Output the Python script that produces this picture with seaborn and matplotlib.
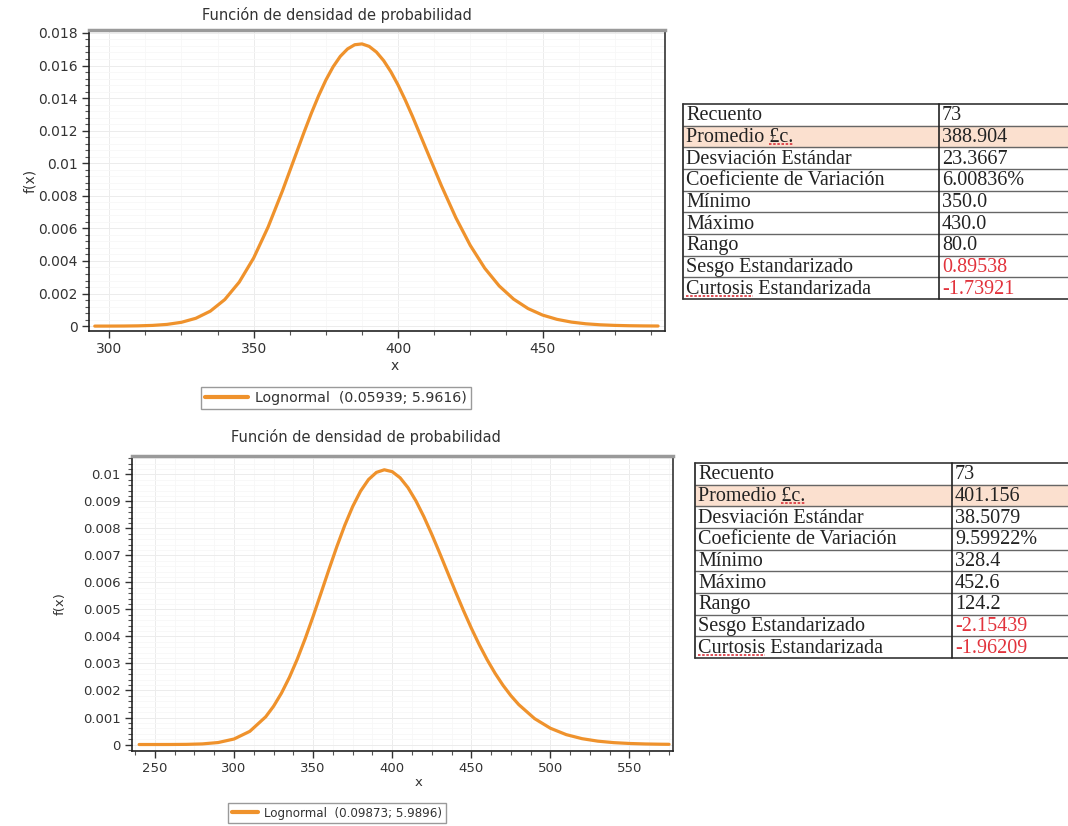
import matplotlib
matplotlib.use("Agg")
import matplotlib.pyplot as plt
from matplotlib.patches import Rectangle
from matplotlib.ticker import MultipleLocator, AutoMinorLocator, FuncFormatter
import seaborn as sns

W, H = 1068, 826

# Curve points
x_top = [295, 300, 305, 310, 315, 320, 325, 330, 335, 340, 345, 350, 355, 360, 365,
         367.5, 370, 372.5, 375, 377.5, 380, 382.5, 385, 387.5, 390, 392.5, 395, 397.5,
         400, 402.5, 405, 410, 415, 420, 425, 430, 435, 440, 445, 450, 455, 460, 465,
         470, 475, 480, 485, 490]
f_top = [0.0000005, 0.0000018, 0.0000057, 0.0000165, 0.0000435, 0.0001052, 0.0002342,
         0.0004818, 0.000919, 0.00163, 0.0027, 0.004183, 0.006082, 0.008318, 0.010728,
         0.011927, 0.01308, 0.014149, 0.015106, 0.015919, 0.016563, 0.017017, 0.017276,
         0.017326, 0.017173, 0.016826, 0.016301, 0.015617, 0.014799, 0.013874, 0.012872,
         0.010744, 0.008619, 0.006654, 0.004951, 0.003555, 0.002467, 0.001656, 0.001077,
         0.000679, 0.000416, 0.000247, 0.000143, 0.0000806, 0.0000443, 0.0000237,
         0.0000124, 0.0000063]

x_bot = [240, 250, 260, 270, 280, 290, 300, 310, 320, 325, 330, 335, 340, 345, 350,
         355, 360, 365, 370, 375, 380, 385, 390, 395, 400, 405, 410, 415, 420, 425,
         430, 435, 440, 445, 450, 455, 460, 465, 470, 475, 480, 490, 500, 510, 520,
         530, 540, 550, 560, 570, 575]
f_bot = [0.00000003, 0.0000002, 0.0000012, 0.0000058, 0.0000226, 0.0000736, 0.0002039,
         0.0004883, 0.0010246, 0.0014168, 0.0019031, 0.0024862, 0.0031626, 0.0039213,
         0.0047446, 0.0056073, 0.0064795, 0.0073268, 0.0081146, 0.0088088, 0.0093809,
         0.0098075, 0.010073, 0.01017, 0.0101, 0.0098732, 0.0095054, 0.0090175,
         0.0084343, 0.0077817, 0.0070862, 0.0063708, 0.0056578, 0.0049656, 0.0043088,
         0.0036976, 0.0031395, 0.0026386, 0.0021956, 0.0018093, 0.0014773, 0.000959,
         0.000602, 0.0003663, 0.0002163, 0.0001243, 0.0000696, 0.0000381, 0.0000203,
         0.0000106, 0.0000076]

label_top = "Lognormal  (0.05939; 5.9616)"
label_bot = "Lognormal  (0.09873; 5.9896)"

# Summary tables
stat_names = ["Recuento", "Promedio £c.", "Desviación Estándar", "Coeficiente de Variación",
              "Mínimo", "Máximo", "Rango", "Sesgo Estandarizado", "Curtosis Estandarizada"]
stats_top = ["73", "388.904", "23.3667", "6.00836%", "350.0", "430.0", "80.0",
             "0.89538", "-1.73921"]
stats_bot = ["73", "401.156", "38.5079", "9.59922%", "328.4", "452.6", "124.2",
             "-2.15439", "-1.96209"]

LINE = "#ef922c"
TITLE = "Función de densidad de probabilidad"
TFONT = ["Liberation Serif"]
TSIZE = 14.5

sns.set_style("ticks")
plt.rcParams["font.family"] = ["DejaVu Sans"]

fig = plt.figure(figsize=(W / 100, H / 100), dpi=100)


def px_axes(left, top, right, bottom):
    return fig.add_axes([left / W, 1 - bottom / H, (right - left) / W, (bottom - top) / H])


def density_chart(box, xs, ys, label, xlim, ylim, ystep, fs, title_xy, legend_xy,
                  leg_fs, leg_hl, ylab_x, xlab_y):
    ax = px_axes(*box)
    sns.lineplot(x=xs, y=ys, ax=ax, color=LINE, lw=2.3, label=label)
    ax.set_xlim(*xlim)
    ax.set_ylim(*ylim)
    ax.xaxis.set_major_locator(MultipleLocator(50))
    ax.xaxis.set_minor_locator(AutoMinorLocator(4))
    ax.yaxis.set_major_locator(MultipleLocator(ystep))
    ax.yaxis.set_minor_locator(AutoMinorLocator(5))
    ax.yaxis.set_major_formatter(FuncFormatter(lambda v, p: f"{v:g}" if abs(v) > 1e-9 else "0"))
    ax.grid(True, which="major", color="#ececec", lw=0.7)
    ax.grid(True, which="minor", color="#f7f7f7", lw=0.6)
    ax.tick_params(which="major", direction="out", length=5, width=1, colors="#333",
                   labelsize=fs, labelcolor="#333", pad=3)
    ax.tick_params(which="minor", direction="out", length=3, width=0.8, colors="#555")
    for side in ["left", "bottom"]:
        ax.spines[side].set_color("#222")
        ax.spines[side].set_linewidth(1.2)
    ax.spines["top"].set_color("#9a9a9a")
    ax.spines["top"].set_linewidth(2.5)
    ax.spines["right"].set_color("#333")
    ax.spines["right"].set_linewidth(1.2)
    ax.set_xlabel("x", fontsize=fs, color="#333")
    ax.set_ylabel("f(x)", fontsize=fs, color="#333")
    ax.xaxis.set_label_coords(0.53, xlab_y)
    ax.yaxis.set_label_coords(ylab_x, 0.5)
    fig.text(title_xy[0] / W, 1 - title_xy[1] / H, TITLE, ha="center", va="center",
             fontsize=10.5, color="#333")
    leg = ax.legend(loc="center", bbox_to_anchor=(legend_xy[0] / W, 1 - legend_xy[1] / H),
                    bbox_transform=fig.transFigure, fancybox=False, edgecolor="#9a9a9a",
                    framealpha=1, fontsize=leg_fs, handlelength=leg_hl, borderpad=0.3,
                    handletextpad=0.5)
    for t in leg.get_texts():
        t.set_color("#333")
    for l in leg.get_lines():
        l.set_linewidth(3)
    return ax


density_chart((89, 30, 665, 331), x_top, f_top, label_top, (293, 492.4), (-0.0003, 0.01818),
              0.002, 10, (337, 15), (336, 398), 10.2, 3, -0.09, -0.092)
density_chart((132, 456, 673, 751), x_bot, f_bot, label_bot, (235.5, 577.5), (-0.00024, 0.01068),
              0.001, 9.5, (366, 437), (337, 813), 8.6, 2.2, -0.12, -0.085)


def draw_table(left, top, divider, values):
    rh = 21.67
    bottom = top + 9 * rh
    ax = px_axes(left - 2, top - 2, W, bottom + 4)
    ax.set_xlim(left - 2, W)
    ax.set_ylim(bottom + 4, top - 2)
    ax.axis("off")
    ax.add_patch(Rectangle((left, top + rh), W - left, rh, color="#fbe0cf", zorder=0))
    for i in range(10):
        ax.plot([left, W], [top + i * rh] * 2, color="#444" if i in (0, 9) else "#666",
                lw=1.3 if i in (0, 9) else 1.0)
    ax.plot([left, left], [top, bottom], color="#333", lw=1.3)
    ax.plot([divider, divider], [top, bottom], color="#222", lw=1.2)
    renderer = fig.canvas.get_renderer()
    inv = ax.transData.inverted()
    for i, (name, val) in enumerate(zip(stat_names, values)):
        y = top + (i + 0.55) * rh
        ax.text(left + 3, y, name, va="center", ha="left", fontsize=TSIZE,
                family=TFONT, color="#222")
        red = i >= 7
        ax.text(divider + 3, y, val, va="center", ha="left", fontsize=TSIZE,
                family=TFONT, color="#e2333c" if red else "#222")
    # red spell-check underlines
    for i, word, prefix in [(1, "£c.", "Promedio "), (8, "Curtosis", "")]:
        y = top + (i + 1) * rh - 3
        w_pre = 0
        if prefix:
            tp = ax.text(left + 3, 0, prefix, fontsize=TSIZE, family=TFONT)
            bb = tp.get_window_extent(renderer)
            w_pre = inv.transform((bb.x1, 0))[0] - inv.transform((bb.x0, 0))[0]
            tp.remove()
        tw = ax.text(left + 3, 0, word, fontsize=TSIZE, family=TFONT)
        bb = tw.get_window_extent(renderer)
        w_word = inv.transform((bb.x1, 0))[0] - inv.transform((bb.x0, 0))[0]
        tw.remove()
        x0 = left + 3 + w_pre
        ax.plot([x0, x0 + w_word], [y, y], color="#d9303a", lw=1.2, ls=(0, (1.5, 1)))


draw_table(683, 104, 939, stats_top)
draw_table(695, 463, 952, stats_bot)

fig.savefig("out.png", dpi=100, facecolor="white")
